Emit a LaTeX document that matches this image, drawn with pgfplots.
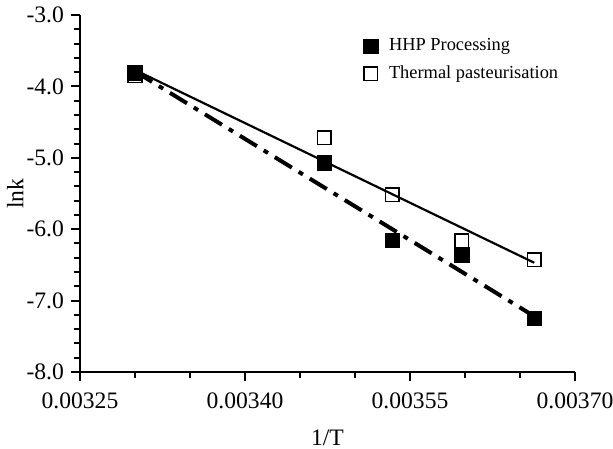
\documentclass[border=0pt]{standalone}
\usepackage{fontspec}
\setmainfont{Liberation Serif}
\usepackage{pgfplots}
\pgfplotsset{compat=1.18}

\begin{document}
\begin{tikzpicture}
\useasboundingbox (-40pt,-38pt) rectangle (266.5pt,186pt);
\begin{axis}[
    scale only axis,
    width=247.5pt,
    height=178.5pt,
    xmin=0.00325, xmax=0.00370,
    ymin=-8, ymax=-3,
    axis lines=left,
    axis line style={-, line width=1pt},
    tick style={line width=1pt, black},
    tick align=outside,
    major tick length=4.5pt,
    minor tick length=3.2pt,
    xtick={0.00325,0.00340,0.00355,0.00370},
    minor x tick num=2,
    ytick={-8,-7,-6,-5,-4,-3},
    minor y tick num=4,
    scaled x ticks=false,
    xticklabel style={font=\fontsize{11.8}{13}\selectfont, yshift=-2.5pt,
        /pgf/number format/.cd, fixed, fixed zerofill, precision=5, assume math mode=true},
    yticklabel style={font=\fontsize{11.8}{13}\selectfont,
        /pgf/number format/.cd, fixed, fixed zerofill, precision=1, assume math mode=true},
    xlabel={1/T},
    ylabel={lnk},
    every axis x label/.style={at={(axis description cs:0.5,-0.185)}, anchor=center,
        font=\fontsize{11.8}{13}\selectfont},
    every axis y label/.style={at={(axis description cs:-0.131,0.5)}, rotate=90, anchor=center,
        font=\fontsize{11.8}{13}\selectfont},
    clip=false,
    legend style={at={(0.56,0.957)}, anchor=north west, draw=none, fill=none,
        font=\fontsize{9.2}{11}\selectfont, row sep=2pt,
        /tikz/every odd column/.append style={column sep=3.5pt}},
    legend cell align=left,
]
% fitted lines
\addplot[black, line width=1.1pt, forget plot] coordinates {(0.003300,-3.77) (0.003663,-6.47)};
\addplot[black, line width=2pt, dash pattern=on 10pt off 4pt on 2.5pt off 4pt, forget plot]
    coordinates {(0.003300,-3.79) (0.003663,-7.22)};
% measured points
\addplot[only marks, mark=square*, mark size=3.6pt, mark options={fill=black, draw=black}]
    coordinates {(0.003300,-3.81) (0.003472,-5.07) (0.003534,-6.16) (0.003597,-6.36) (0.003663,-7.25)};
\addlegendentry{HHP Processing}
\addplot[only marks, mark=square, mark size=3.4pt, mark options={draw=black, fill=white, line width=0.75pt}]
    coordinates {(0.003300,-3.85) (0.003472,-4.72) (0.003534,-5.52) (0.003597,-6.16) (0.003663,-6.43)};
\addlegendentry{Thermal pasteurisation}
\end{axis}
\end{tikzpicture}
\end{document}
